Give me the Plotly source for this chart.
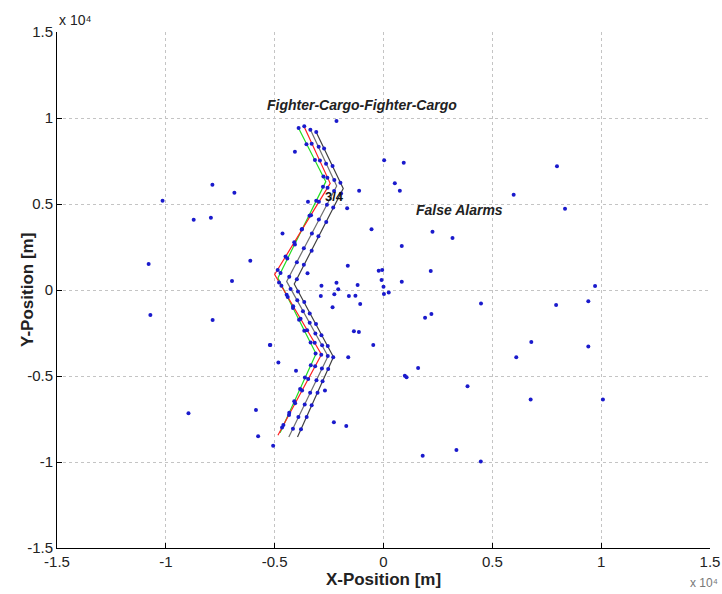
import plotly.graph_objects as go

# ---------------- data ----------------
tick_vals = [-15000, -10000, -5000, 0, 5000, 10000, 15000]
tick_text = ["-1.5", "-1", "-0.5", "0", "0.5", "1", "1.5"]

# truth tracks (waypoints), four targets
track1_x = [-3900, -2650, -4850, -3100, -4750]
track1_y = [9400, 6300, 700, -3700, -8300]
track2_x = [-3650, -2450, -5000, -2850, -4850]
track2_y = [9500, 6200, 900, -3750, -8450]
track3_x = [-3350, -2150, -4450, -2550, -4350]
track3_y = [9300, 6050, 500, -3850, -8550]
track4_x = [-3100, -1850, -4100, -2300, -3950]
track4_y = [9200, 5900, 350, -3900, -8550]
track_colors = ["#22dd22", "#ff2020", "#707070", "#404040"]

# target detections along each track
det1_x = [-3900, -3540, -3150, -2760, -2780, -3090, -3400, -3760, -4070, -4420, -4730,
          -4690, -4400, -4160, -3880, -3640, -3350, -3120, -3340, -3610, -3830, -4100, -4330, -4600]
det1_y = [9420, 8470, 7560, 6600, 6010, 5190, 4320, 3520, 2650, 1830, 990,
          250, -410, -1050, -1730, -2370, -3050, -3690, -4380, -5090, -5760, -6470, -7140, -7850]
det2_x = [-3640, -3300, -2920, -2580, -2570, -2970, -3330, -3740, -4100, -4500, -4860,
          -4800, -4450, -4150, -3810, -3510, -3160, -2860, -3140, -3460, -3740, -4060, -4340, -4660]
det2_y = [9520, 8500, 7530, 6520, 5940, 5130, 4350, 3540, 2770, 1950, 1170,
          430, -270, -950, -1670, -2340, -3060, -3760, -4440, -5170, -5850, -6580, -7270, -7990]
det3_x = [-3360, -2980, -2640, -2260, -2270, -2600, -2970, -3290, -3660, -3980, -4330,
          -4270, -3960, -3700, -3390, -3130, -2820, -2560, -2830, -3080, -3370, -3620, -3910, -4160]
det3_y = [9310, 8330, 7340, 6390, 5760, 4950, 4100, 3290, 2430, 1620, 770,
          60, -600, -1230, -1900, -2530, -3210, -3840, -4560, -5250, -5980, -6660, -7380, -8070]
det4_x = [-3090, -2730, -2340, -1980, -1950, -2310, -2630, -2990, -3300, -3660, -3980,
          -3930, -3640, -3390, -3100, -2850, -2560, -2310, -2540, -2800, -3030, -3300, -3530, -3790]
det4_y = [9190, 8220, 7210, 6240, 5610, 4800, 3950, 3130, 2280, 1470, 620,
          -80, -700, -1360, -1980, -2630, -3250, -3910, -4590, -5300, -5980, -6700, -7380, -8090]

# false alarms
fa_x = [-7860, -6850, -10150, -8720, -7930, -6120, -10790, -6960, -10710, -7850,
        -5200, -8960, -5860, -5760, -5070, 30, 930, 7970, 520, 750,
        5980, 8340, 2250, 3170, 840, 2170, 840, -60, -90, 0,
        20, 240, 9720, 4480, 7930, 9410, 1910, 2200, 6790, 6100,
        9410, 1590, 980, 1060, 3860, 6760, 10080, -2280, -1710, 1800,
        3350, 4470, -2160, -4070, -1120, -3470, -1670, -550, -4640, -1640,
        -220, -3490, -2160, -1190, -2850, -2080, -2880, -2260, -1590, -1290,
        -1070, -2340, -1360, -1130, -470, -5220, -1620, -4830, -4020, -2690]
fa_y = [6120, 5650, 5190, 4090, 4200, 1700, 1510, 520, -1450, -1740,
        -3200, -7170, -6970, -8510, -9050, 7540, 7400, 7200, 6200, 5770,
        5540, 4720, 3390, 3020, 2560, 1100, 480, 1160, 580, 190,
        -230, -150, 230, -780, -870, -660, -1610, -1400, -3020, -3910,
        -3290, -4530, -4980, -5070, -5600, -6370, -6370, -7690, -7900, -9630,
        -9300, -9970, 9820, 8040, 5770, 5130, 4750, 3530, 3290, 1410,
        1120, 970, 420, 290, 250, 40, -350, -250, -350, -330,
        -810, -1010, -2400, -2440, -3200, -3200, -3910, -4220, -4700, -5850]

# ---------------- figure ----------------
fig = go.Figure()

tracks = [(track1_x, track1_y), (track2_x, track2_y), (track3_x, track3_y), (track4_x, track4_y)]
for (tx, ty), col in zip(tracks, track_colors):
    fig.add_trace(go.Scatter(x=tx, y=ty, mode="lines",
                             line=dict(color=col, width=1.2), showlegend=False, hoverinfo="skip"))

dets = [(det1_x, det1_y), (det2_x, det2_y), (det3_x, det3_y), (det4_x, det4_y)]
for dx, dy in dets:
    fig.add_trace(go.Scatter(x=dx, y=dy, mode="markers",
                             marker=dict(color="#1a1acc", size=4), showlegend=False))

fig.add_trace(go.Scatter(x=fa_x, y=fa_y, mode="markers",
                         marker=dict(color="#1a1acc", size=4), showlegend=False))

font_main = "Liberation Sans, Arial, sans-serif"

fig.add_annotation(x=-1000, y=10750, text="<b><i>Fighter-Cargo-Fighter-Cargo</i></b>",
                   showarrow=False, font=dict(family=font_main, size=14, color="#222"))
fig.add_annotation(x=3500, y=4650, text="<b><i>False Alarms</i></b>",
                   showarrow=False, font=dict(family=font_main, size=14, color="#222"))
fig.add_annotation(x=-2250, y=5450, text="<b>3/4</b>",
                   showarrow=False, font=dict(family=font_main, size=13, color="#111"))

# y-axis title placed close to the tick labels, as in the reference
fig.add_annotation(xref="paper", yref="paper", x=-0.046, y=0.5, xanchor="center", yanchor="middle",
                   text="<b>Y-Position [m]</b>", textangle=-90, showarrow=False,
                   font=dict(family=font_main, size=17, color="#222"))

# exponent labels
fig.add_annotation(xref="paper", yref="paper", x=0.0, y=1.0, xanchor="left", yanchor="bottom",
                   xshift=0, yshift=2, text="x 10\u2074", showarrow=False,
                   font=dict(family=font_main, size=14, color="#222"))
fig.add_annotation(xref="paper", yref="paper", x=1.0, y=0.0, xanchor="right", yanchor="top",
                   xshift=10, yshift=-26, text="x 10\u2074", showarrow=False,
                   font=dict(family=font_main, size=12, color="#777"))

axis_common = dict(
    tickvals=tick_vals, ticktext=tick_text,
    showgrid=True, gridcolor="#c4c4c4", griddash="dot", gridwidth=1,
    zeroline=False, showline=True, linecolor="black", linewidth=1,
    ticks="inside", ticklen=5, tickcolor="black",
    tickfont=dict(family=font_main, size=15, color="#222"),
    mirror=False, automargin=False,
)

fig.update_xaxes(range=[-15000, 15000], **axis_common,
                 title=dict(text="<b>X-Position [m]</b>", standoff=0,
                            font=dict(family=font_main, size=17, color="#222")))
fig.update_yaxes(range=[-15000, 15000], **axis_common)

fig.update_layout(
    width=722, height=594,
    margin=dict(l=57, r=12, t=32, b=46),
    plot_bgcolor="white", paper_bgcolor="white",
    showlegend=False,
)

fig.write_html("out.html", config={"displayModeBar": False},
               post_script="document.body.style.margin='0';document.body.style.overflow='hidden';")
